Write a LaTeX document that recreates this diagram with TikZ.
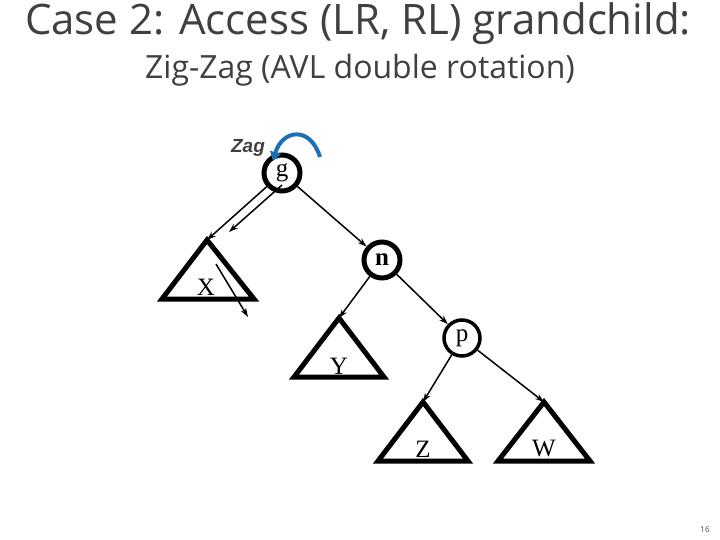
\documentclass[tikz,border=0pt]{standalone}
\usepackage{fontspec}
\setmainfont{Liberation Serif}
\newfontfamily\titlefont{Open Sans}
\newfontfamily\arial{Liberation Sans}
\usetikzlibrary{arrows.meta}
\definecolor{tgray}{RGB}{64,64,64}
\definecolor{zblue}{RGB}{30,110,180}
\begin{document}
\begin{tikzpicture}[x=1pt,y=-1pt,
  nd/.style={circle,draw,line width=5pt,minimum size=36pt,inner sep=0pt,font=\fontsize{25}{25}\selectfont},
  tri/.style={line width=5pt,line join=miter},
  edge/.style={-{Stealth[length=9pt,width=6pt]},line width=1.5pt},
  lab/.style={font=\fontsize{25}{25}\selectfont}]
\useasboundingbox (0,0) rectangle (720,540);
\node[text=tgray,font=\titlefont\fontsize{42}{42}\selectfont] (t1) at (358,24) {Case 2: Access (LR, RL) grandchild:};
\node[text=tgray,font=\titlefont\fontsize{32}{32}\selectfont] (t2) at (360,70) {Zig-Zag (AVL double rotation)};
\node[text=tgray,font=\titlefont\fontsize{8}{8}\selectfont] (pg) at (705,530) {16};
\node[nd] (g) at (282,173) {g};
\node[nd] (n) at (382,260) {\textbf{n}};
\node[nd,line width=3.5pt] (p) at (462,338) {p};
\draw[tri] (207,240) -- (162,299) -- (254,299) -- cycle;
\draw[tri] (339,318) -- (294,377) -- (384,377) -- cycle;
\draw[tri] (423,402) -- (378,461) -- (468,461) -- cycle;
\draw[tri] (544,402) -- (498,461) -- (590,461) -- cycle;
\coordinate (xa) at (207,240);
\coordinate (ya) at (339,318);
\coordinate (za) at (423,402);
\coordinate (wa) at (544,402);
\node[lab] (xl) at (206,287) {X};
\node[lab] (yl) at (339,366) {Y};
\node[lab] (zl) at (423,449) {Z};
\node[lab] (wl) at (544,449) {W};
\draw[edge] (g) -- (xa);
\coordinate (g2) at (282,185);
\coordinate (g2e) at (229,232);
\draw[edge] (g2) -- (g2e);
\coordinate (s1) at (216,264);
\coordinate (s2) at (248,317);
\draw[edge] (s1) -- (s2);
\draw[edge] (g) -- (n);
\draw[edge] (n) -- (ya);
\draw[edge] (n) -- (p);
\draw[edge] (p) -- (za);
\draw[edge] (p) -- (wa);
\node[text=tgray,font=\arial\bfseries\itshape\fontsize{19}{19}\selectfont] (zag) at (248,148) {Zag};
\coordinate (a1) at (320,157);
\coordinate (a2) at (273,161);
\draw[zblue,line width=4pt,-{Triangle[length=9pt,width=11pt]}] (a1) .. controls (310,125) and (282,130) .. (a2);
\end{tikzpicture}
\end{document}
